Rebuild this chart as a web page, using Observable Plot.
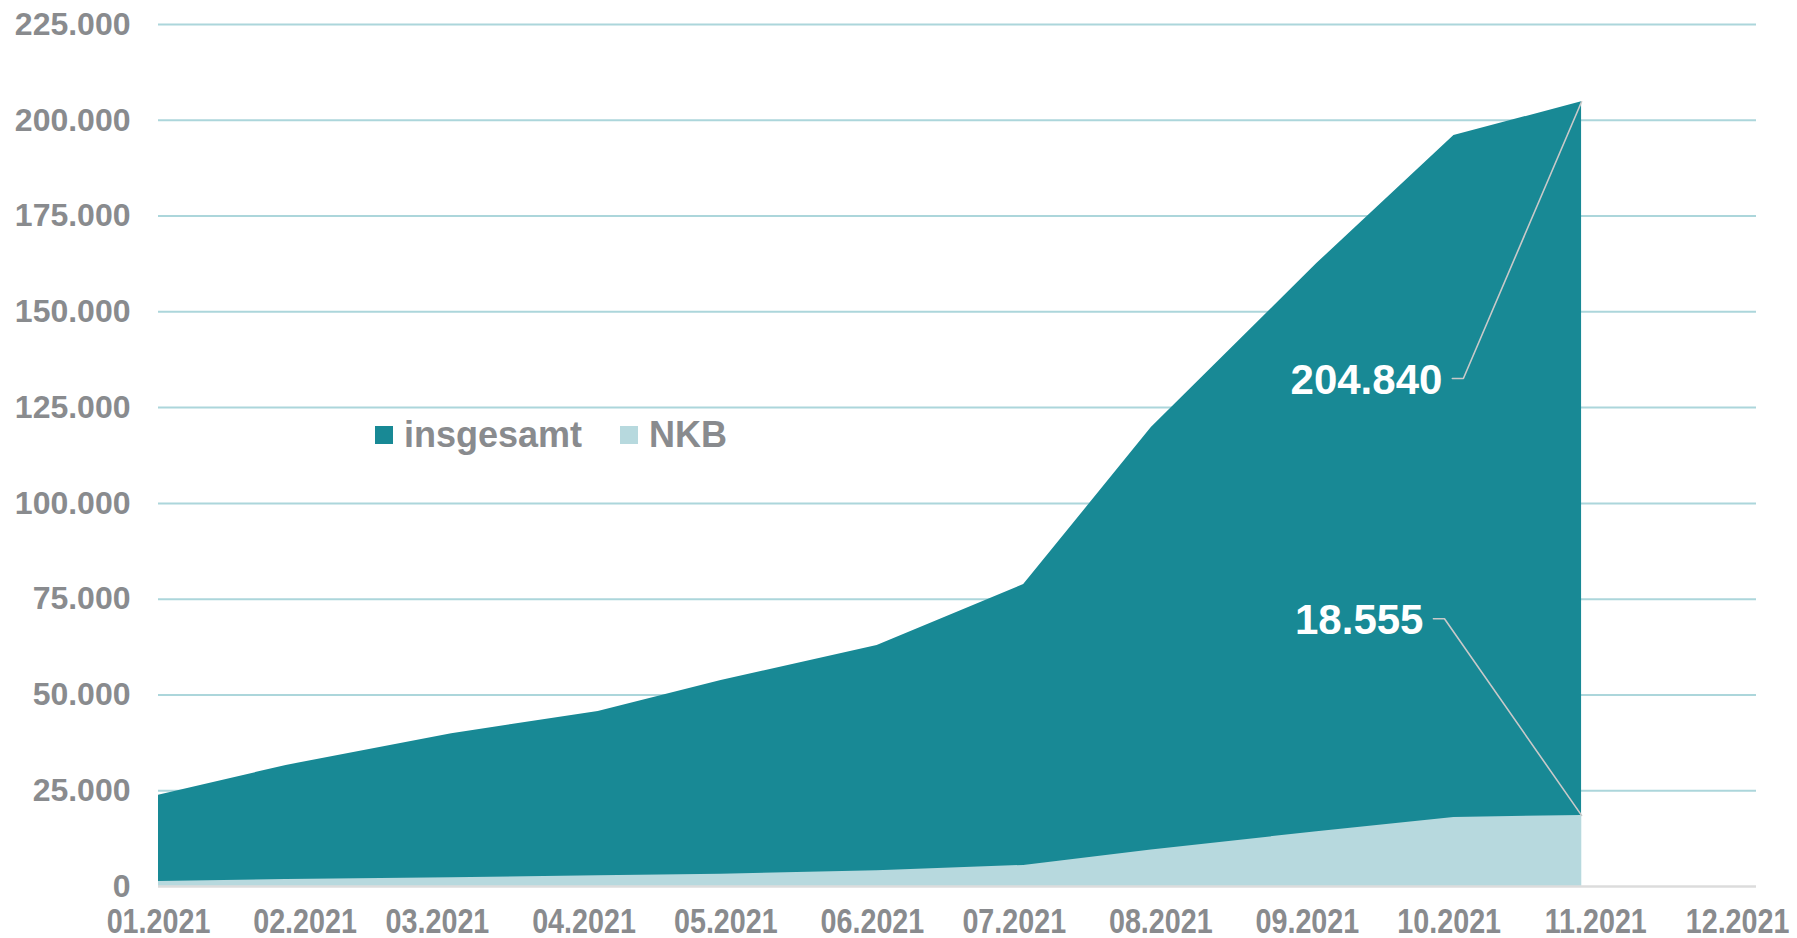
<!DOCTYPE html>
<html>
<head>
<meta charset="utf-8">
<script src="https://cdn.jsdelivr.net/npm/d3@7"></script>
<script src="https://cdn.jsdelivr.net/npm/@observablehq/plot@0.6"></script>
<style>
  html, body { margin: 0; padding: 0; background: #fff; }
  #wrap { position: relative; width: 1797px; height: 938px; }
  #legend { position: absolute; left: 375px; top: 414px; display: flex; align-items: center;
    font-family: "Liberation Sans", Arial, sans-serif; font-weight: bold; font-size: 36px; color: #898b8e; }
  .item { display: flex; align-items: center; margin-right: 38px; }
  .sw { width: 18px; height: 18px; margin-right: 11px; }
</style>
</head>
<body>
<div id="wrap"><div id="legend"></div></div>
<script>
// ---- data ----
const dates = ["2021-01-01","2021-01-28","2021-03-04","2021-04-04","2021-04-30","2021-06-02","2021-07-03","2021-07-30","2021-09-03","2021-10-02","2021-10-29"];
const insgesamt = [23800, 31600, 39900, 45700, 53800, 62900, 78800, 119800, 162600, 196000, 204840];
const nkb = [1300, 1800, 2300, 2800, 3200, 4100, 5500, 9500, 14300, 18000, 18555];
const seriesNames = ["insgesamt", "NKB"];
const seriesColors = ["#188995", "#b7d9de"];
const yTicks = [0, 25000, 50000, 75000, 100000, 125000, 150000, 175000, 200000, 225000];
const xTicks = ["2021-01-01","2021-02-01","2021-03-01","2021-04-01","2021-05-01","2021-06-01","2021-07-01","2021-08-01","2021-09-01","2021-10-01","2021-11-01","2021-12-01"];
const xDomain = ["2021-01-01", "2021-12-05"];
// label anchors (elbow of the leader line) for the end-value labels
const labelDates = ["2021-10-04", "2021-09-30"];
const labelValues = [132600, 69900];

// ---- build ----
const parse = d3.utcParse("%Y-%m-%d");
const de = d3.formatLocale({decimal: ",", thousands: ".", grouping: [3], currency: ["", " €"]});
const fmt = de.format(",d");
const rows = dates.map((d, i) => ({date: parse(d), insgesamt: insgesamt[i], nkb: nkb[i]}));
const last = rows[rows.length - 1];
const lastVals = [last.insgesamt, last.nkb];
const leaders = [];
const labels = [];
seriesNames.forEach((s, i) => {
  const elbow = parse(labelDates[i]);
  leaders.push({s, date: last.date, v: lastVals[i]});
  leaders.push({s, date: elbow, v: labelValues[i]});
  leaders.push({s, date: d3.utcHour.offset(elbow, -56), v: labelValues[i]});
  labels.push({date: elbow, v: labelValues[i], text: fmt(lastVals[i])});
});

const plot = Plot.plot({
  width: 1797,
  height: 938,
  marginLeft: 158,
  marginRight: 41,
  marginTop: 24,
  marginBottom: 52,
  style: {fontFamily: "'Liberation Sans', Arial, sans-serif", fontWeight: "bold", background: "#fff", overflow: "visible"},
  x: {type: "utc", domain: xDomain.map(parse)},
  y: {domain: [0, 225000]},
  marks: [
    Plot.ruleY(yTicks.filter(d => d > 0), {stroke: "#acd6db", strokeWidth: 2}),
    Plot.areaY(rows, {x: "date", y1: 0, y2: "insgesamt", fill: seriesColors[0]}),
    Plot.areaY(rows, {x: "date", y1: 0, y2: "nkb", fill: seriesColors[1]}),
    Plot.ruleY([0], {stroke: "#dcdcdc", strokeWidth: 2.5}),
    Plot.line(leaders, {x: "date", y: "v", z: "s", stroke: "#c9c9c9", strokeWidth: 1.6}),
    Plot.text(labels, {x: "date", y: "v", text: "text", textAnchor: "end", dx: -21, dy: 2, fill: "#fff", fontSize: 42, fontWeight: "bold"}),
    Plot.axisY({ticks: yTicks, tickSize: 0, tickPadding: 28, tickFormat: fmt, fontSize: 32, color: "#898b8e", label: null}),
    Plot.axisX({ticks: xTicks.map(parse), tickSize: 0, tickPadding: 22, tickFormat: d3.utcFormat("%m.%Y"), fontSize: 35, color: "#898b8e", label: null, ariaLabel: "x-axis"})
  ]
});
// condensed look for the x tick labels (narrow font not installed)
plot.querySelectorAll('g[aria-label="x-axis tick label"] text, g[aria-label="x-axis"] text').forEach(t => {
  const tr = t.getAttribute("transform") || "";
  t.setAttribute("transform", tr + " scale(0.82,1)");
});
document.getElementById("wrap").prepend(plot);

const legend = document.getElementById("legend");
seriesNames.forEach((s, i) => {
  const it = document.createElement("div");
  it.className = "item";
  const sw = document.createElement("div");
  sw.className = "sw";
  sw.style.background = seriesColors[i];
  const t = document.createElement("span");
  t.textContent = s;
  it.append(sw, t);
  legend.append(it);
});
</script>
</body>
</html>
